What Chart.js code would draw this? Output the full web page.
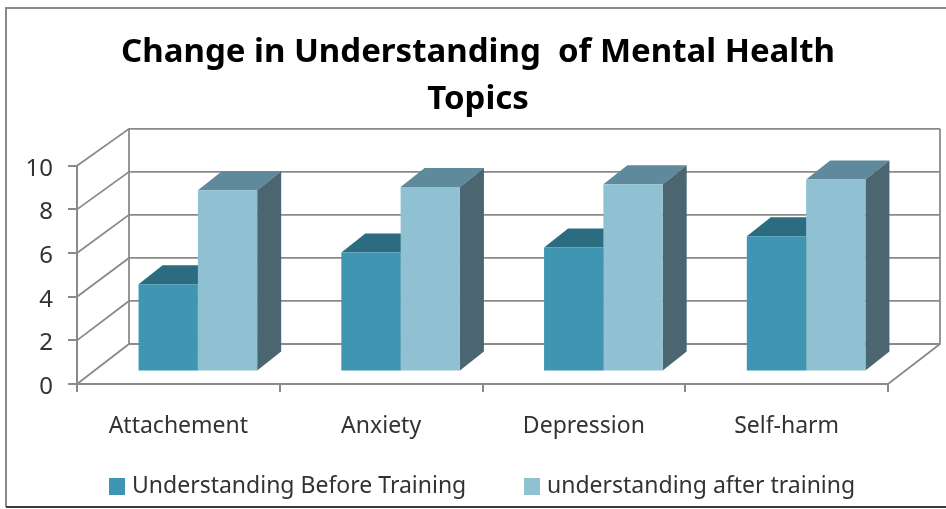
<!DOCTYPE html>
<html>
<head>
<meta charset="utf-8">
<style>
  html, body { margin: 0; padding: 0; background: #fff; }
  #wrap { width: 946px; height: 509px; }
</style>
<script src="https://cdn.jsdelivr.net/npm/chart.js@4"></script>
</head>
<body>
<div id="wrap"><canvas id="chart" width="946" height="509"></canvas></div>
<script>
// values
const categories = ['Attachement', 'Anxiety', 'Depression', 'Self-harm'];
const beforeTraining = [4.0, 5.45, 5.68, 6.2];
const afterTraining = [8.3, 8.45, 8.58, 8.8];
const seriesNames = ['Understanding Before Training', 'understanding after training'];
const titleLines = ['Change in Understanding  of Mental Health', 'Topics'];
const yTicks = [0, 2, 4, 6, 8, 10];

const FONT = '"Noto Sans", sans-serif';
const LINE = '#8a8a8a';

// faces of each series: front, top, side
const faces = [
  { front: '#3f96b2', top: '#2b6c80', side: '#3b5f6c' },
  { front: '#8fc1d3', top: '#5f8a9b', side: '#4b6670' }
];

// depth of the floor, and where the bars sit inside it
const wall = { dx: 52, dy: 40, shrink: 0.986 };
const barShift = { dx: 19.5, dy: 12.5 };
const barDepth = { dx: 24, dy: 19 };

function poly(ctx, pts, fill) {
  ctx.beginPath();
  pts.forEach((p, i) => i ? ctx.lineTo(p[0], p[1]) : ctx.moveTo(p[0], p[1]));
  ctx.closePath();
  ctx.fillStyle = fill;
  ctx.fill();
}

// frame of the picture
const framePlugin = {
  id: 'frame',
  beforeDraw(chart) {
    const ctx = chart.ctx;
    ctx.save();
    ctx.strokeStyle = '#8a8a8a';
    ctx.lineWidth = 2;
    ctx.beginPath();
    ctx.moveTo(946, 8);
    ctx.lineTo(6, 8);
    ctx.lineTo(6, 507);
    ctx.stroke();
    ctx.strokeStyle = '#3a3a3a';
    ctx.beginPath();
    ctx.moveTo(6, 507);
    ctx.lineTo(946, 507);
    ctx.stroke();
    ctx.restore();
  }
};

// back wall, side wall and floor of the 3D box
const wallPlugin = {
  id: 'wall',
  beforeDatasetsDraw(chart) {
    const ctx = chart.ctx;
    const { left, right } = chart.chartArea;
    const y = chart.scales.y;
    const base = y.getPixelForValue(0);
    const backY = v => base - wall.dy - (base - y.getPixelForValue(v)) * wall.shrink;
    ctx.save();
    ctx.strokeStyle = LINE;
    ctx.lineWidth = 1.8;
    yTicks.forEach(v => {
      ctx.beginPath();
      ctx.moveTo(left, y.getPixelForValue(v));
      ctx.lineTo(left + wall.dx, backY(v));
      ctx.lineTo(right + wall.dx, backY(v));
      ctx.stroke();
    });
    ctx.beginPath();
    ctx.moveTo(left + wall.dx, backY(10));
    ctx.lineTo(left + wall.dx, backY(0));
    ctx.moveTo(right + wall.dx, backY(10));
    ctx.lineTo(right + wall.dx, backY(0));
    ctx.lineTo(right, base);
    ctx.stroke();
    ctx.restore();
  }
};

// bars are drawn by the library, moved into the box; this adds top and side faces.
// the library paints the last series first, so the faces all go in before any front
const barPlugin = {
  id: 'bars3d',
  beforeDatasetsDraw(chart) {
    const ctx = chart.ctx;
    const d = barDepth;
    ctx.save();
    ctx.translate(barShift.dx, -barShift.dy);
    chart.data.datasets.forEach((ds, i) => {
      chart.getDatasetMeta(i).data.forEach(bar => {
        const l = bar.x - bar.width / 2;
        const r = bar.x + bar.width / 2;
        poly(ctx, [[l, bar.y], [l + d.dx, bar.y - d.dy], [r + d.dx, bar.y - d.dy], [r, bar.y]], faces[i].top);
        poly(ctx, [[r, bar.y], [r + d.dx, bar.y - d.dy], [r + d.dx, bar.base - d.dy], [r, bar.base]], faces[i].side);
      });
    });
  },
  afterDatasetsDraw(chart) {
    chart.ctx.restore();
  }
};

// legend spacing differs too much from what the built-in one allows
const legendPlugin = {
  id: 'legendRow',
  afterDraw(chart) {
    const ctx = chart.ctx;
    ctx.save();
    ctx.font = '23px ' + FONT;
    ctx.textBaseline = 'middle';
    ctx.textAlign = 'left';
    const slots = [109, 524];
    seriesNames.forEach((name, i) => {
      ctx.fillStyle = faces[i].front;
      ctx.fillRect(slots[i], 478, 16, 17);
      ctx.fillStyle = '#333';
      ctx.fillText(name, slots[i] + 23, 486);
    });
    ctx.restore();
  }
};

new Chart(document.getElementById('chart'), {
  type: 'bar',
  data: {
    labels: categories,
    datasets: [
      { label: seriesNames[0], data: beforeTraining, backgroundColor: faces[0].front },
      { label: seriesNames[1], data: afterTraining, backgroundColor: faces[1].front }
    ]
  },
  options: {
    responsive: false,
    animation: false,
    datasets: { bar: { categoryPercentage: 0.585, barPercentage: 1 } },
    layout: { padding: { left: 10, right: 0, top: 0, bottom: 0 } },
    plugins: {
      legend: { display: false },
      tooltip: { enabled: false },
      title: {
        display: true,
        text: titleLines,
        color: '#000',
        font: { family: FONT, size: 33, weight: 'bold', lineHeight: 1.42 },
        padding: { top: 29, bottom: 43 }
      }
    },
    scales: {
      x: {
        border: { color: LINE, width: 2 },
        grid: { drawOnChartArea: false, color: LINE, lineWidth: 2, tickLength: 8 },
        ticks: { color: '#333', font: { family: FONT, size: 23 }, padding: 21, maxRotation: 0 },
        afterFit: s => { s.height = 125; }
      },
      y: {
        min: 0,
        max: 10,
        border: { color: LINE, width: 2 },
        grid: { drawOnChartArea: false, color: LINE, lineWidth: 2, tickLength: 9 },
        afterBuildTicks: s => { s.ticks = yTicks.map(v => ({ value: v })); },
        ticks: { color: '#333', font: { family: FONT, size: 24 }, padding: 15, labelOffset: 3 },
        afterFit: s => { s.width = 67; }
      },
      // empty axis that keeps the room for the depth of the box on the right
      depth: {
        type: 'linear',
        position: 'right',
        border: { display: false },
        grid: { display: false },
        ticks: { display: false },
        afterFit: s => { s.width = 58; }
      }
    }
  },
  plugins: [framePlugin, wallPlugin, barPlugin, legendPlugin]
});
</script>
</body>
</html>
